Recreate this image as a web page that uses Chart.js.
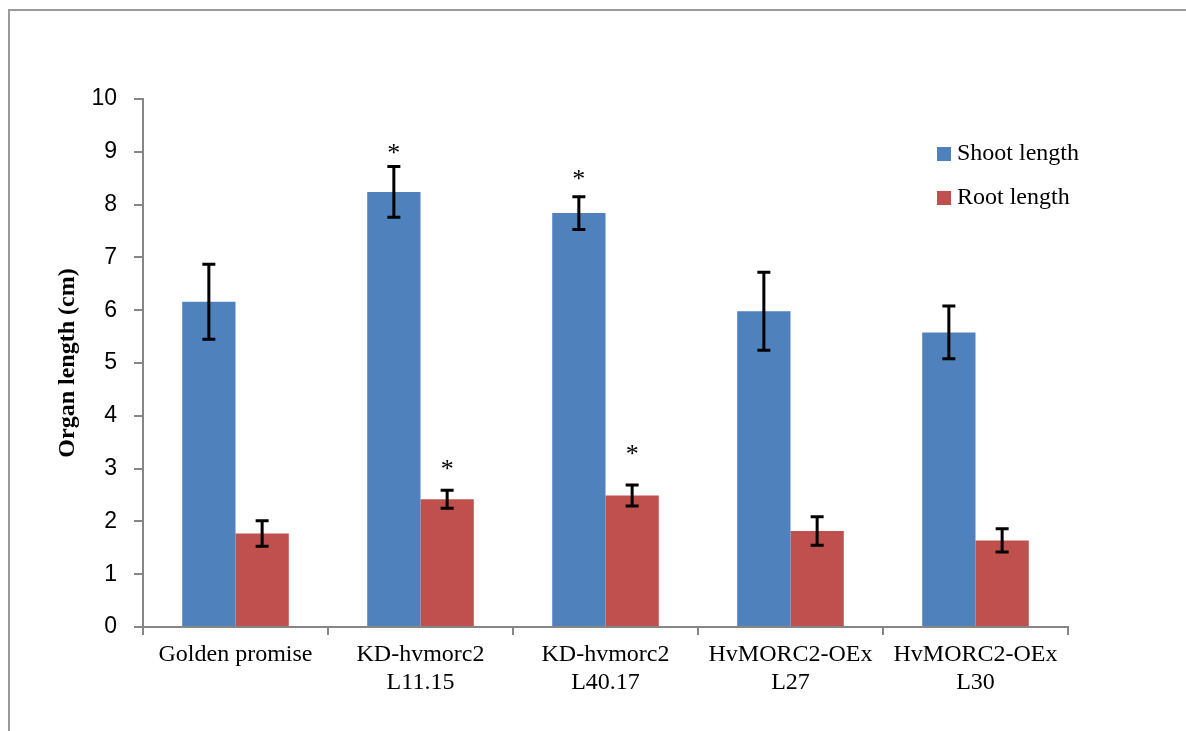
<!DOCTYPE html>
<html>
<head>
<meta charset="utf-8">
<title>Organ length</title>
<script src="https://cdn.jsdelivr.net/npm/chart.js@4/dist/chart.umd.min.js"></script>
<style>
  html, body { margin: 0; padding: 0; background: #fff; }
  #wrap { position: relative; width: 1186px; height: 731px; overflow: hidden; }
  #frame {
    position: absolute; left: 8px; top: 9px; width: 1200px; height: 740px;
    border-left: 2px solid #9a9a9a; border-top: 2px solid #9a9a9a;
  }
  #chart { position: absolute; left: 0; top: 0; }
</style>
</head>
<body>
<div id="wrap">
  <div id="frame"></div>
  <canvas id="chart" width="1186" height="731"></canvas>
</div>
<script>
// data
const categories = [
  "Golden promise",
  ["KD-hvmorc2", "L11.15"],
  ["KD-hvmorc2", "L40.17"],
  ["HvMORC2-OEx", "L27"],
  ["HvMORC2-OEx", "L30"],
];
const shootLength = [6.16, 8.24, 7.84, 5.98, 5.58];
const shootErr = [0.71, 0.48, 0.31, 0.74, 0.50];
const rootLength = [1.77, 2.42, 2.49, 1.82, 1.64];
const rootErr = [0.24, 0.17, 0.20, 0.27, 0.22];
// where the significance asterisks sit (value units), null = none
const shootStar = [null, 9.06, 8.57, null, null];
const rootStar = [null, 3.07, 3.36, null, null];
const yTicks = [0, 1, 2, 3, 4, 5, 6, 7, 8, 9, 10];

const BLUE = "#4f81bd";
const RED = "#c0504d";
const AXIS = "#868686";
const SERIF = "'Liberation Serif', 'Times New Roman', serif";
const SANS = "'Liberation Sans', Arial, sans-serif";

// error bars + asterisks, drawn from each bar element
const errorBars = {
  id: "errorBars",
  afterDatasetsDraw(chart) {
    const { ctx } = chart;
    const y = chart.scales.y;
    ctx.save();
    chart.data.datasets.forEach((ds, di) => {
      const meta = chart.getDatasetMeta(di);
      meta.data.forEach((bar, i) => {
        const v = ds.data[i];
        const e = ds.errors[i];
        const top = y.getPixelForValue(v + e);
        const bot = y.getPixelForValue(v - e);
        const x = bar.x;
        ctx.strokeStyle = "#000";
        ctx.lineWidth = 3;
        ctx.beginPath();
        ctx.moveTo(x, top); ctx.lineTo(x, bot);
        ctx.moveTo(x - 6.5, top); ctx.lineTo(x + 6.5, top);
        ctx.moveTo(x - 6.5, bot); ctx.lineTo(x + 6.5, bot);
        ctx.stroke();
        const s = ds.stars[i];
        if (s != null) {
          ctx.fillStyle = "#000";
          ctx.font = "26px " + SERIF;
          ctx.textAlign = "center";
          ctx.textBaseline = "alphabetic";
          ctx.fillText("*", x, y.getPixelForValue(s) + 12);
        }
      });
    });
    ctx.restore();
  },
};

// legend sits inside the plot area, top right
const insideLegend = {
  id: "insideLegend",
  afterDraw(chart) {
    const { ctx, chartArea } = chart;
    const x0 = chartArea.right - 131;
    let yy = chartArea.top + 55;
    ctx.save();
    ctx.font = "24px " + SERIF;
    ctx.textBaseline = "middle";
    ctx.textAlign = "left";
    chart.data.datasets.forEach((ds) => {
      ctx.fillStyle = ds.backgroundColor;
      ctx.fillRect(x0, yy - 7, 14, 14);
      ctx.fillStyle = "#000";
      ctx.fillText(ds.label, x0 + 20, yy);
      yy += 44;
    });
    ctx.restore();
  },
};

new Chart(document.getElementById("chart"), {
  type: "bar",
  data: {
    labels: categories,
    datasets: [
      {
        label: "Shoot length",
        data: shootLength,
        errors: shootErr,
        stars: shootStar,
        backgroundColor: BLUE,
        categoryPercentage: 0.576,
        barPercentage: 1.0,
      },
      {
        label: "Root length",
        data: rootLength,
        errors: rootErr,
        stars: rootStar,
        backgroundColor: RED,
        categoryPercentage: 0.576,
        barPercentage: 1.0,
      },
    ],
  },
  options: {
    responsive: false,
    animation: false,
    layout: { padding: { top: 99, right: 118, bottom: 0, left: 0 } },
    plugins: { legend: { display: false }, tooltip: { enabled: false } },
    scales: {
      x: {
        grid: {
          offset: true,
          drawOnChartArea: false,
          drawTicks: true,
          tickLength: 8,
          color: AXIS,
          lineWidth: 2,
        },
        border: { color: AXIS, width: 2 },
        ticks: {
          color: "#000",
          font: { family: SERIF, size: 24, lineHeight: 1.17 },
          padding: 6,
          maxRotation: 0,
          autoSkip: false,
        },
        afterFit: (s) => { s.height = 104; },
      },
      y: {
        min: 0,
        max: 10,
        afterBuildTicks: (s) => { s.ticks = yTicks.map((v) => ({ value: v })); },
        grid: {
          drawOnChartArea: false,
          drawTicks: true,
          tickLength: 9,
          color: AXIS,
          lineWidth: 2,
        },
        border: { color: AXIS, width: 2 },
        ticks: {
          color: "#000",
          font: { family: SANS, size: 23 },
          padding: 17,
        },
        title: {
          display: true,
          text: "Organ length (cm)",
          color: "#000",
          font: { family: SERIF, size: 24, weight: "bold" },
          padding: { top: 53, bottom: 0 },
        },
        afterFit: (s) => { s.width = 143; },
      },
    },
  },
  plugins: [errorBars, insideLegend],
});
</script>
</body>
</html>
